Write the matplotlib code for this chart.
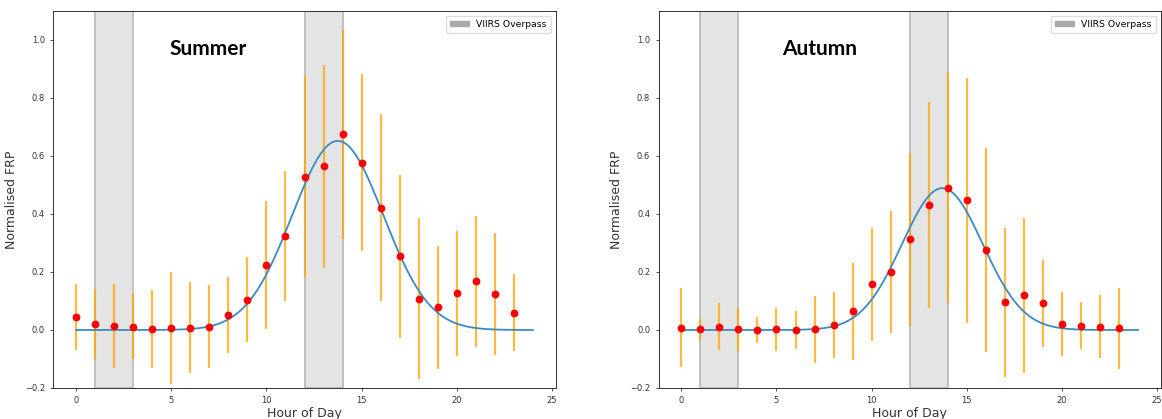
import numpy as np
import matplotlib.pyplot as plt
import matplotlib.patches as mpatches

# Hourly normalised FRP (mean and std)
hours = np.arange(24)

summer_mean = [0.045, 0.019, 0.015, 0.012, 0.004, 0.006, 0.008, 0.012, 0.051, 0.105,
               0.224, 0.325, 0.529, 0.565, 0.675, 0.577, 0.422, 0.254, 0.108, 0.078,
               0.126, 0.168, 0.123, 0.060]
summer_err = [0.113, 0.123, 0.145, 0.113, 0.135, 0.193, 0.157, 0.142, 0.130, 0.148,
              0.222, 0.224, 0.347, 0.350, 0.360, 0.305, 0.323, 0.281, 0.278, 0.211,
              0.217, 0.226, 0.210, 0.133]

autumn_mean = [0.008, 0.002, 0.012, 0.002, 0.000, 0.002, 0.000, 0.002, 0.017, 0.065,
               0.158, 0.200, 0.313, 0.431, 0.490, 0.447, 0.275, 0.095, 0.120, 0.092,
               0.021, 0.015, 0.012, 0.006]
autumn_err = [0.137, 0.037, 0.080, 0.075, 0.044, 0.073, 0.064, 0.116, 0.115, 0.167,
              0.195, 0.212, 0.298, 0.354, 0.398, 0.423, 0.352, 0.258, 0.267, 0.150,
              0.110, 0.080, 0.110, 0.140]

# gaussian fit parameters (amplitude, centre, sigma)
summer_fit = (0.652, 13.75, 2.4)
autumn_fit = (0.489, 13.72, 2.12)

overpass = [(1, 3), (12, 14)]

panels = [("Summer", summer_mean, summer_err, summer_fit, 4.9),
          ("Autumn", autumn_mean, autumn_err, autumn_fit, 5.3)]

fig = plt.figure(figsize=(11.62, 4.19), dpi=100)
lefts = [0.0459, 0.5667]
xfit = np.linspace(0, 24, 300)

for left, (name, mean, err, fit, tx) in zip(lefts, panels):
    ax = fig.add_axes([left, 0.074, 0.4323, 0.8998])
    for a, b in overpass:
        ax.axvspan(a, b, facecolor="#e4e4e4", edgecolor="#b8b8b8", linewidth=1.2, zorder=0)
    amp, mu, sig = fit
    ax.plot(xfit, amp * np.exp(-(xfit - mu) ** 2 / (2 * sig ** 2)), color="#3a8bc4",
            linewidth=1.3, zorder=2)
    ax.errorbar(hours, mean, yerr=err, fmt="none", ecolor="orange", alpha=0.75,
                elinewidth=1.6, zorder=1)
    ax.plot(hours, mean, "o", color="red", markersize=4.6, zorder=3)
    ax.set_xlim(-1.2, 25.2)
    ax.set_ylim(-0.2, 1.1)
    ax.set_xticks([0, 5, 10, 15, 20, 25])
    ax.set_yticks([-0.2, 0.0, 0.2, 0.4, 0.6, 0.8, 1.0])
    ax.tick_params(labelsize=6, length=2.5, width=0.6, colors="#333333")
    for s in ax.spines.values():
        s.set_linewidth(0.7)
        s.set_color("#333333")
    ax.set_xlabel("Hour of Day", fontsize=9, color="#333333", labelpad=1)
    ax.set_ylabel("Normalised FRP", fontsize=9, color="#333333", labelpad=5)
    ax.text(tx, 0.97, name, fontsize=15, fontweight="bold", family="Lato",
            ha="left", va="center")
    patch = mpatches.Patch(color="#a9a9a9", label="VIIRS Overpass")
    ax.legend(handles=[patch], loc="upper right", fontsize=6.7, handlelength=2.0,
              handleheight=0.6, borderpad=0.45, framealpha=1, edgecolor="#dddddd")

fig.savefig("out.png", dpi=100)
